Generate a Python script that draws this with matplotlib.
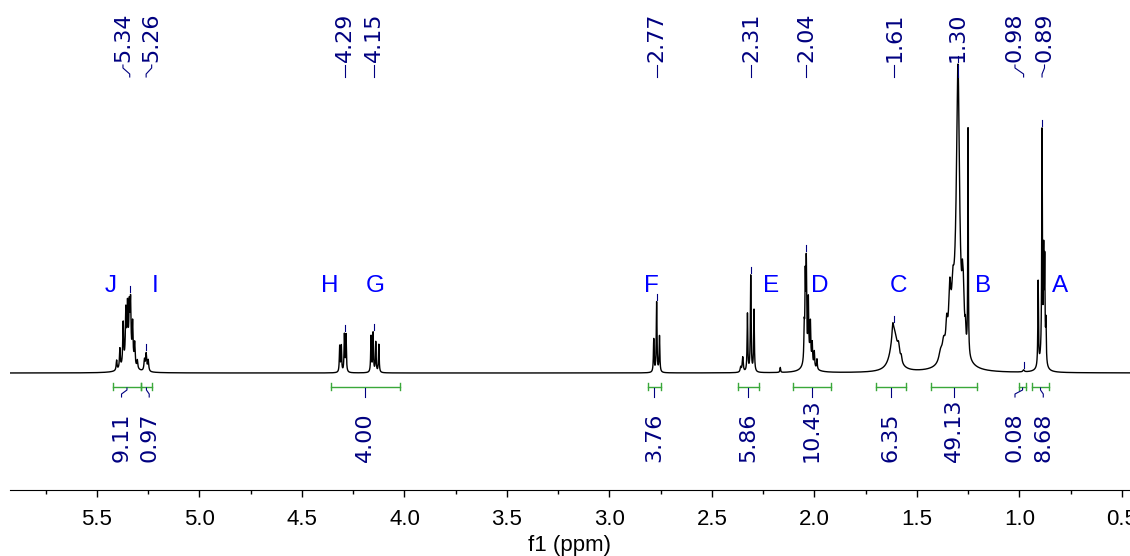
import numpy as np
import matplotlib.pyplot as plt
from matplotlib.ticker import MultipleLocator

# resonance lines (shift in ppm, height above baseline, half width in ppm)
line_shift = [
    # J / I
    5.404, 5.388, 5.372, 5.359, 5.351, 5.342, 5.336, 5.326, 5.316, 5.303, 5.345,
    5.268, 5.260, 5.250,
    # H / G
    4.316, 4.308, 4.293, 4.285,
    4.163, 4.153, 4.140, 4.125,
    # F
    2.784, 2.770, 2.756,
    # E
    2.360, 2.350, 2.327, 2.311, 2.295,
    2.167,
    # D
    2.050, 2.045, 2.040, 2.030, 2.020, 2.011, 2.001, 1.988, 2.030,
    # C
    1.612, 1.618, 1.590, 1.577,
    # B
    1.300, 1.315, 1.340, 1.355, 1.370, 1.385, 1.325, 1.275, 1.279, 1.264, 1.251,
    # small one at 0.98
    0.980,
    # A
    0.909, 0.890, 0.882, 0.877, 0.871, 0.890,
]
line_height = [
    10, 20, 42, 48, 48, 45, 52, 38, 22, 8, 18,
    11, 17, 11,
    26, 26, 37, 37,
    36, 39, 30, 28,
    33, 70, 36,
    5, 15, 58, 96, 62,
    5,
    32, 78, 92, 55, 36, 20, 15, 10, 16,
    40, 12, 12, 6,
    270, 40, 50, 25, 15, 10, 30, 55, 15, 15, 225,
    2,
    85, 225, 100, 95, 40, 12,
]
line_width = [
    0.0025, 0.0025, 0.0025, 0.0025, 0.0025, 0.0025, 0.0025, 0.0025, 0.0025, 0.0025, 0.02,
    0.003, 0.003, 0.003,
    0.002, 0.002, 0.002, 0.002,
    0.002, 0.002, 0.002, 0.002,
    0.002, 0.002, 0.002,
    0.003, 0.003, 0.002, 0.002, 0.002,
    0.002,
    0.002, 0.002, 0.002, 0.002, 0.002, 0.002, 0.002, 0.002, 0.02,
    0.02, 0.004, 0.006, 0.004,
    0.009, 0.03, 0.006, 0.005, 0.008, 0.01, 0.006, 0.006, 0.002, 0.002, 0.0015,
    0.004,
    0.0018, 0.0018, 0.0018, 0.0018, 0.0018, 0.015,
]

# peak picking labels
pick_labels = ["5.34", "5.26", "4.29", "4.15", "2.77", "2.31", "2.04", "1.61", "1.30", "0.98", "0.89"]
pick_ppm = [5.34, 5.26, 4.29, 4.15, 2.77, 2.31, 2.04, 1.61, 1.30, 0.98, 0.89]

# multiplet letters
mult_letters = ["J", "I", "H", "G", "F", "E", "D", "C", "B", "A"]

# integrals: range (from, to) and value
int_from = [5.422, 5.285, 4.359, 2.812, 2.373, 2.105, 1.700, 1.432, 1.002, 0.939]
int_to = [5.285, 5.232, 4.022, 2.749, 2.271, 1.920, 1.554, 1.207, 0.968, 0.856]
int_values = ["9.11", "0.97", "4.00", "3.76", "5.86", "10.43", "6.35", "49.13", "0.08", "8.68"]

# label placement (ppm), layout only; None = straight above/below its mark
pick_text_x = [5.373, 5.233, None, None, None, None, None, None, None, 1.022, 0.878]
mult_text_x = [5.432, 5.218, 4.364, 4.141, 2.796, 2.213, 1.976, 1.592, 1.180, 0.801]
int_text_x = [5.380, 5.245, None, None, None, None, None, None, 1.022, 0.884]

navy = "#000080"
green = "#3aa83a"

x = np.linspace(5.924, 0.461, 40000)
y = np.zeros_like(x)
for c, h, w in zip(line_shift, line_height, line_width):
    y += h / (1 + ((x - c) / w) ** 2)

fig = plt.figure(figsize=(11.3, 5.56), dpi=100)
ax = fig.add_axes([10 / 1130, 66 / 556, 1120 / 1130, 490 / 556])
ax.plot(x, y, color="black", lw=1)
ax.set_xlim(5.924, 0.461)
ax.set_ylim(-117, 373)

for s in ["left", "right", "top"]:
    ax.spines[s].set_visible(False)
ax.set_yticks([])
ax.xaxis.set_major_locator(MultipleLocator(0.5))
ax.xaxis.set_minor_locator(MultipleLocator(0.25))
ax.tick_params(axis="x", which="major", length=5, width=1, pad=9, labelsize=16)
ax.tick_params(axis="x", which="minor", length=3, width=1)
for lab in ax.get_xticklabels():
    lab.set_family("Liberation Sans")
ax.set_xlabel("f1 (ppm)", fontsize=16, family="Liberation Sans", labelpad=3)

# peak labels with connectors and markers
for lab, p, tx in zip(pick_labels, pick_ppm, pick_text_x):
    if tx is None:
        tx = p
    ax.text(tx, 311, lab, rotation=90, ha="center", va="bottom", color=navy,
            fontsize=16, family="DejaVu Sans")
    ax.plot([tx, tx, p, p], [308, 305, 299, 296], color=navy, lw=0.8)
    near = np.abs(x - p) < 0.006
    top = y[near].max()
    ax.plot([p, p], [top + 2, top + 8], color=navy, lw=0.8)

for lab, tx in zip(mult_letters, mult_text_x):
    ax.text(tx, 87.5, lab, color="blue", fontsize=17.5, ha="center", va="center",
            family="Liberation Sans")

# integrals
for a, b, val, tx in zip(int_from, int_to, int_values, int_text_x):
    ax.plot([a, b], [-13.5, -13.5], color=green, lw=1)
    ax.plot([a, a], [-10, -17], color=green, lw=1)
    ax.plot([b, b], [-10, -17], color=green, lw=1)
    mid = (a + b) / 2
    if tx is None:
        tx = mid
    ax.plot([mid, mid, tx, tx], [-15, -17, -21, -24], color=navy, lw=0.8)
    ax.text(tx, -89, val, rotation=90, ha="center", va="bottom", color=navy,
            fontsize=16, family="DejaVu Sans")

fig.savefig("out.png", dpi=100)
